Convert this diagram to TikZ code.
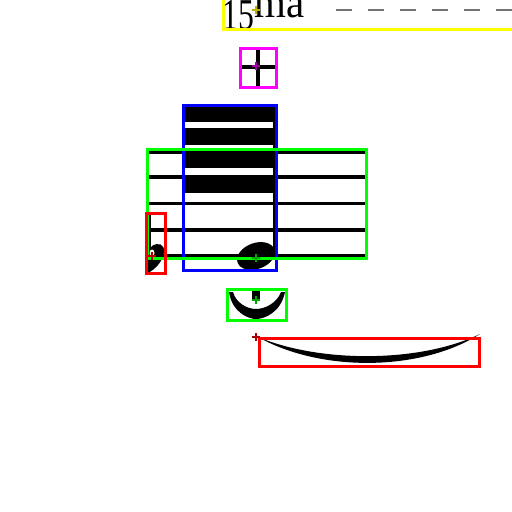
\documentclass[tikz,border=0pt]{standalone}
\usepackage{fontspec}
\setmainfont{Liberation Serif}

\tikzset{every picture/.style={line width=0.75pt}}
\tikzset{
  bbox/.style={line width=2.25pt},
  staffline/.style={line width=2.6pt},
  pin/.style={line width=1.6pt},
  octdash/.style={line width=1.9pt, black!55, dash pattern=on 12pt off 12pt},
}
\definecolor{boxyellow}{RGB}{255,255,0}
\definecolor{boxmagenta}{RGB}{255,0,255}
\definecolor{boxblue}{RGB}{0,0,255}
\definecolor{boxgreen}{RGB}{0,255,0}
\definecolor{boxred}{RGB}{255,0,0}
\definecolor{pinolive}{RGB}{185,180,0}
\definecolor{pinpurple}{RGB}{165,0,165}
\definecolor{pingreen}{RGB}{0,165,0}
\definecolor{pinred}{RGB}{170,0,0}
% small plus mark at an anchor point
\newcommand{\pinmark}[2]{\draw[pin,#1] (#2) ++(-4,0) -- ++(8,0) ++(-4,-4) -- ++(0,8);}

\begin{document}
\begin{tikzpicture}[x=0.75pt,y=0.75pt,yscale=-1,xscale=1]
\useasboundingbox (0,0) rectangle (512,512);
\clip (0,0) rectangle (512,512);

% Text Node
\node [anchor=base west, inner sep=0pt] (octnum) at (222,29) {\fontsize{33}{33}\selectfont\scalebox{0.72}[1]{15}};
% Text Node
\node [anchor=base west, inner sep=0pt] (octsup) at (254,17) {\fontsize{33}{33}\selectfont\scalebox{0.93}[1]{ma}};
%Straight Lines: octave dashes
\draw [octdash] (336,10) -- (520,10);

%Shape: Cross
\draw [line width=3pt] (258,50) -- (258,86) ;
\draw [line width=3pt] (242,67) -- (275,67) ;

%Shape: Beams
\fill (184,106) rectangle (275.5,193) ;
\fill [white] (185,121.5) rectangle (273,128) ;
\fill [white] (185,145) rectangle (273,151) ;
\fill [white] (185,168) rectangle (273,175) ;

%Straight Lines: staff
\foreach \y in {152,177,203.5,230,255.5}
  \draw [staffline] (147,\y) -- (366,\y) ;

%Straight Lines: stem
\draw [line width=2.25pt] (274.5,193) -- (274.5,255) ;
%Shape: Ellipse (note head)
\fill [rotate around={-20:(256,256)}] (256,256) ellipse (19.5 and 13) ;

%Shape: cut note at the left edge
\draw [line width=1.6pt] (150,212) -- (150,250) ;
\fill (148,252) -- (152,246) .. controls (158,242) and (165,244) .. (164,252) .. controls (163,262) and (154,270) .. (148,273) -- cycle ;
\fill [white] (152,253) ellipse (2.5 and 3.5) ;

%Shape: Fermata
\fill (229,292) .. controls (232,312) and (248,319) .. (256,319) .. controls (265,319) and (281,312) .. (285,292) -- (281,292) .. controls (277,303) and (265,309) .. (256,309) .. controls (247,309) and (236,303) .. (233,292) -- cycle ;
\fill (251.5,291) rectangle (260,300) ;

%Shape: Slur
\fill (258,337) .. controls (320,372) and (420,372) .. (480,334) .. controls (420,363) and (320,363) .. (258,337) -- cycle ;

%Shape: Rectangles
\draw [bbox, boxyellow] (223,-5) rectangle (520,29) ;
\draw [bbox, boxmagenta] (240,48) rectangle (276.5,87) ;
\draw [bbox, boxblue] (183,105) rectangle (276.5,270) ;
\draw [bbox, boxgreen] (147,149.5) rectangle (366,258) ;
\draw [bbox, boxred] (146,213) rectangle (165,273) ;
\draw [bbox, boxgreen] (227,289.5) rectangle (286,320) ;
\draw [bbox, boxred] (259,338) rectangle (479,366) ;

%Shape: anchor marks
\pinmark{pinolive}{256,10}
\pinmark{pinpurple}{256,66}
\pinmark{pingreen}{256,258}
\pinmark{pinred}{152,256}
\pinmark{pingreen}{256,300}
\pinmark{pinred}{256,337}

\end{tikzpicture}
\end{document}
